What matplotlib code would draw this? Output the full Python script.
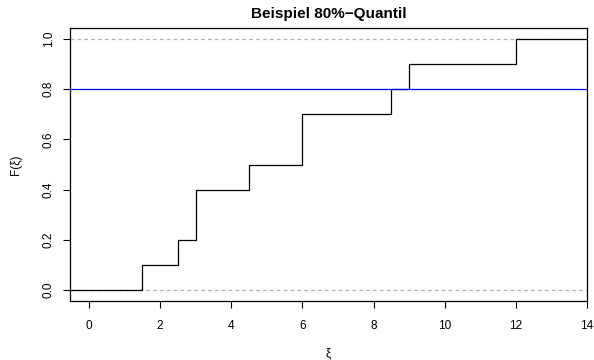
import matplotlib
matplotlib.use("Agg")
import matplotlib.pyplot as plt

plt.rcParams['font.family'] = ['Liberation Sans', 'DejaVu Sans']

# ECDF step positions and levels
jump_x = [1.5, 2.5, 3.0, 4.5, 6.0, 8.5, 9.0, 12.0]
levels = [0.1, 0.2, 0.4, 0.5, 0.7, 0.8, 0.9, 1.0]
quantile_level = 0.8
xticks = [0, 2, 4, 6, 8, 10, 12, 14]
yticks = [0.0, 0.2, 0.4, 0.6, 0.8, 1.0]
title = "Beispiel 80%\u2212Quantil"

xlim = (-0.535, 14.0)
ylim = (-0.043, 1.043)

fig = plt.figure(figsize=(5.94, 3.6), dpi=100)
ax = fig.add_axes([70/594, 1-301/360, 517/594, 273/360])

ax.axhline(0, color='#b3b3b3', lw=0.9, ls=(0, (3, 2.5)), zorder=1)
ax.axhline(1, color='#b3b3b3', lw=0.9, ls=(0, (3, 2.5)), zorder=1)

xs = [xlim[0]] + jump_x + [xlim[1]]
ys = [0.0] + levels + [levels[-1]]
ax.step(xs, ys, where='post', color='black', lw=0.9, zorder=2)

ax.axhline(quantile_level, color='#0000ff', lw=0.9, zorder=3)

ax.set_xlim(*xlim)
ax.set_ylim(*ylim)
ax.set_xticks(xticks)
ax.set_xticklabels([str(t) for t in xticks])
ax.set_yticks(yticks)
ax.set_yticklabels([f"{t:.1f}" for t in yticks], rotation=90, va='center')
ax.tick_params(labelsize=8.5, length=5, width=0.8, direction='out')
ax.tick_params(axis='x', pad=9)
ax.tick_params(axis='y', pad=6)
for s in ax.spines.values():
    s.set_linewidth(0.9)

ax.set_title(title, fontsize=11, fontweight='bold', pad=7)
ax.set_xlabel("\u03be", fontsize=8.5, labelpad=11)
ax.set_ylabel("F(\u03be)", fontsize=8.5, labelpad=15)

fig.savefig("out.png", dpi=100)
